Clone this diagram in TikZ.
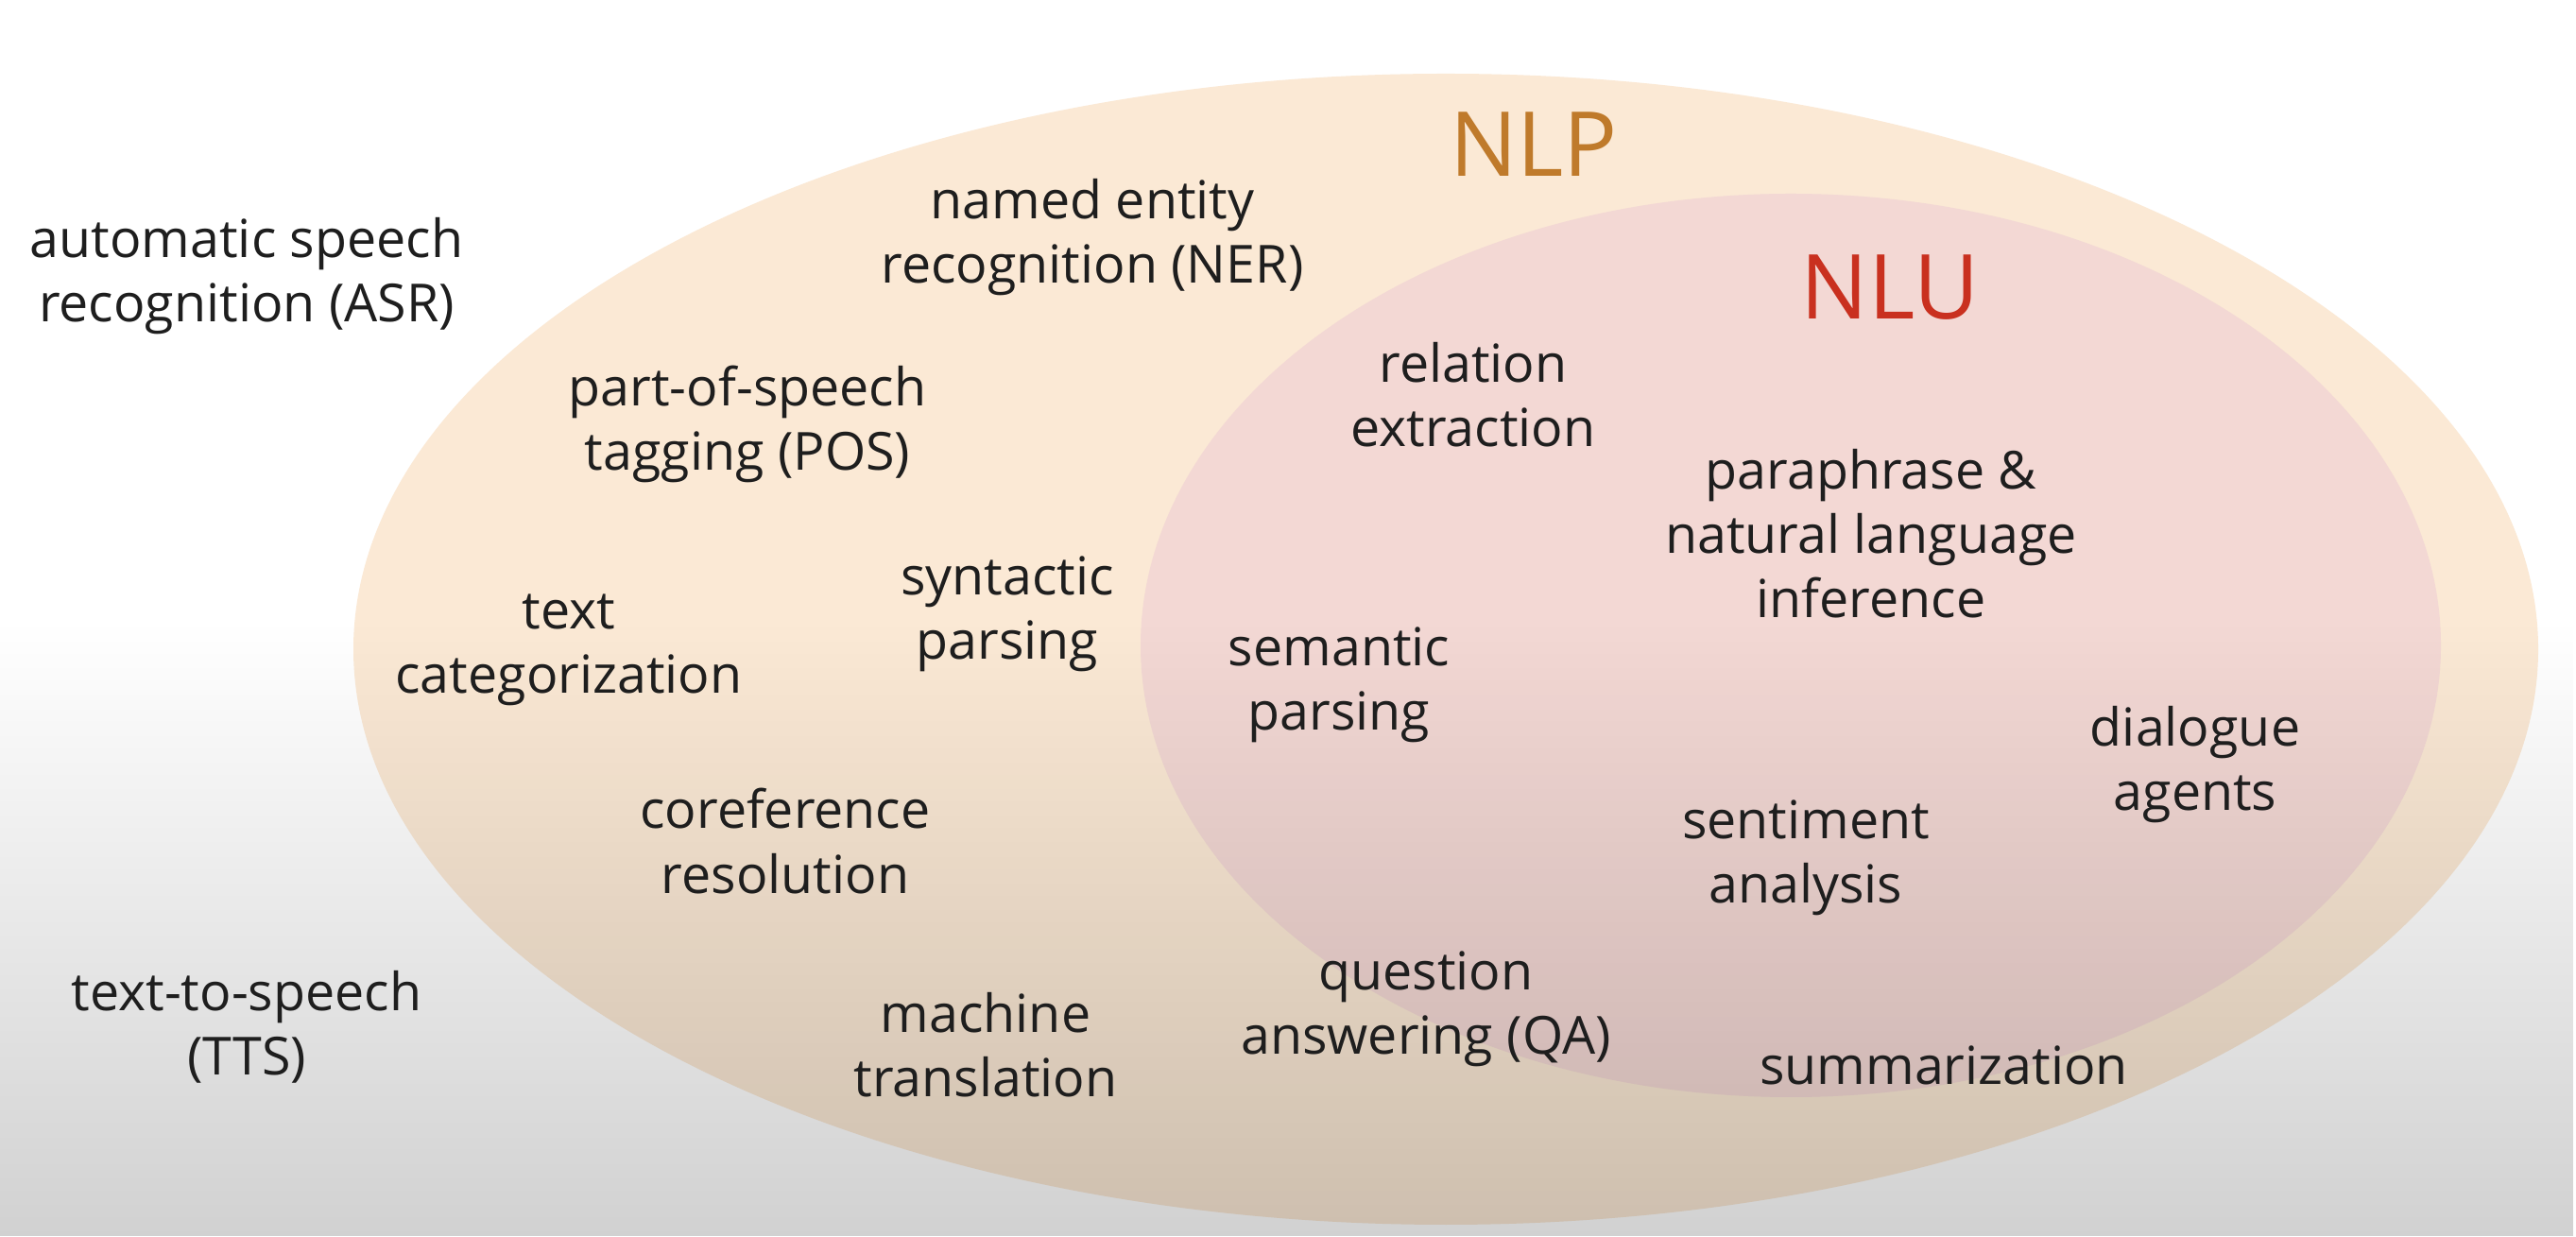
\documentclass[tikz,border=0pt]{standalone}
\usepackage{fontspec}
\setmainfont{Open Sans}
\usetikzlibrary{fadings}
\definecolor{nlpfill}{HTML}{FBE9D5}
\definecolor{nlufill}{HTML}{F3D8D4}
\definecolor{nlpcol}{HTML}{BF7A2B}
\definecolor{nlucol}{HTML}{C9301F}
\definecolor{ink}{HTML}{1E1E1E}
\begin{document}
\begin{tikzpicture}[
  task/.style={align=center, text=ink, inner sep=0pt, font=\fontsize{15.8}{19.4}\selectfont},
  tag/.style={inner sep=0pt, font=\fontsize{27}{30}\selectfont}
]
  \useasboundingbox (0,0) rectangle (27.26,13.08);
  \fill[white] (0,0) rectangle (27.26,13.08);
  % the two sets
  \fill[nlpfill] (15.30,6.21) ellipse [x radius=11.56, y radius=6.09];
  \fill[nlufill] (18.95,6.25) ellipse [x radius=6.88, y radius=4.78];
  % darker towards the bottom
  \fill[black, opacity=0.18, path fading=north] (0,0) rectangle (27.26,6.5);
  \node[tag, text=nlpcol] (nlp) at (16.23,11.55) {NLP};
  \node[tag, text=nlucol] (nlu) at (20.00,10.04) {NLU};
  % outside NLP
  \node[task] (asr) at (2.61,10.16) {automatic speech\\recognition (ASR)};
  \node[task] (tts) at (2.61,2.21) {text-to-speech\\(TTS)};
  % NLP only
  \node[task] (ner) at (11.56,10.57) {named entity\\recognition (NER)};
  \node[task] (pos) at (7.91,8.59) {part-of-speech\\tagging (POS)};
  \node[task] (textcat) at (6.02,6.20) {text\\categorization};
  \node[task] (syntax) at (10.66,6.58) {syntactic\\parsing};
  \node[task] (coref) at (8.31,4.18) {coreference\\resolution};
  \node[task] (mt) at (10.43,2.02) {machine\\translation};
  % NLU
  \node[task] (relext) at (15.59,8.90) {relation\\extraction};
  \node[task] (nli) at (19.80,7.43) {paraphrase \&\\natural language\\inference};
  \node[task] (semantic) at (14.17,5.83) {semantic\\parsing};
  \node[task] (dialogue) at (23.23,4.99) {dialogue\\agents};
  \node[task] (sentiment) at (19.11,4.00) {sentiment\\analysis};
  \node[task] (qa) at (15.09,2.40) {question\\answering (QA)};
  \node[task] (summ) at (20.57,1.81) {summarization};
\end{tikzpicture}
\end{document}
